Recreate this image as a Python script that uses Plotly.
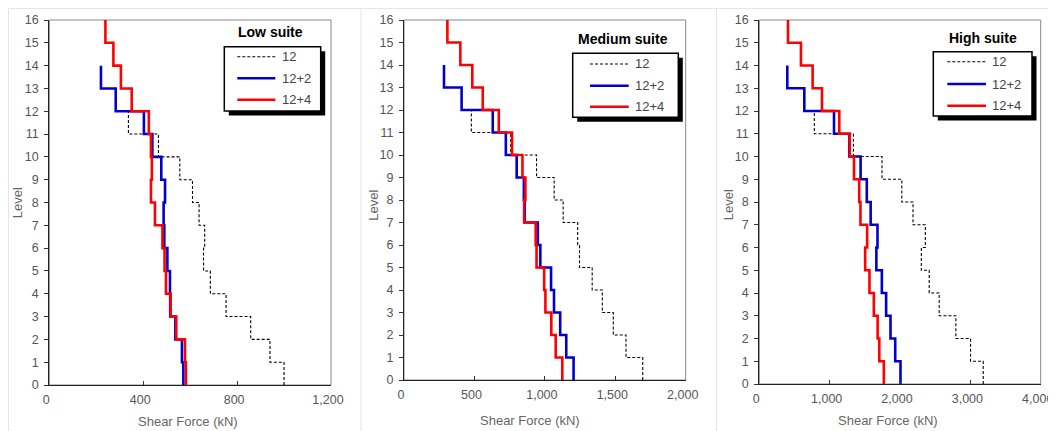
import plotly.graph_objects as go

# the page is 1056x431; the figure starts inside the browser's 8px body margin
# and runs to the right / bottom edge of the window
PAGE_W, PAGE_H = 1056, 431
OFF = 8
W, H = PAGE_W - OFF, PAGE_H - OFF

# ---------------- data (shear force per storey, kN; storey i spans level i..i+1) ----------------
suites = ["Low suite", "Medium suite", "High suite"]
series_names = ["12", "12+2", "12+4"]

low_12 = [1000, 940, 858, 753, 686, 657, 662, 638, 610, 556, 465, 337]
low_12p2 = [571, 565, 537, 515, 514, 503, 490, 487, 493, 477, 439, 403, 283, 220]
low_12p4 = [582, 578, 541, 517, 497, 491, 482, 450, 433, 437, 433, 424, 351, 305, 273, 239]

med_12 = [1695, 1576, 1486, 1408, 1336, 1246, 1233, 1130, 1066, 941, 758, 478]
med_12p2 = [1204, 1152, 1109, 1065, 1044, 968, 950, 857, 851, 800, 723, 630, 409, 284]
med_12p4 = [1124, 1077, 1046, 1004, 995, 941, 935, 853, 862, 841, 767, 673, 559, 485, 400, 308]

high_12 = [3183, 3003, 2794, 2557, 2415, 2303, 2360, 2185, 2026, 1744, 1338, 782]
high_12p2 = [2007, 1932, 1865, 1803, 1742, 1664, 1680, 1583, 1528, 1440, 1280, 1062, 640, 398]
high_12p4 = [1770, 1706, 1682, 1628, 1566, 1505, 1533, 1438, 1420, 1346, 1286, 1137, 891, 758, 592, 408]

x_max = [1200, 2000, 4000]
x_dtick = [400, 500, 1000]
level_ticks = list(range(0, 17))

panel_data = [
    [low_12, low_12p2, low_12p4],
    [med_12, med_12p2, med_12p4],
    [high_12, high_12p2, high_12p4],
]

# ---------------- layout geometry (page pixels) ----------------
plots = [  # left, right, top, bottom
    (49.3, 331.0, 20.0, 385.0),
    (404.0, 685.7, 20.0, 380.0),
    (759.3, 1040.7, 20.0, 384.0),
]
legend_box = [  # left, right, top, bottom
    (224.3, 320.7, 46.7, 111.0),
    (572.7, 678.3, 53.3, 117.3),
    (933.3, 1032.0, 51.7, 116.0),
]
legend_rows = [(56.7, 78.3, 99.7), (64.0, 85.7, 106.7), (61.7, 84.0, 105.7)]
legend_sample_x = [(237.3, 275.3), (590.0, 628.7), (947.3, 986.0)]
legend_text_x = [280.0, 633.3, 990.0]
title_pos = [(270.0, 32.3), (623.0, 39.0), (983.0, 37.7)]
xlabel_pos = [(188.0, 421.5), (530.0, 420.0), (888.0, 420.0)]
ylabel_pos = [(17.3, 203.0), (372.7, 205.0), (728.3, 205.0)]

styles = [
    dict(color="black", width=1.1, dash="3px,2px"),
    dict(color="#0000CC", width=2.6),
    dict(color="#FF0000", width=2.6),
]

FONT = "Liberation Sans, Arial, sans-serif"


def px(x):
    return (x - OFF) / W


def py(y):
    return 1 - (y - OFF) / H


fig = go.Figure()
shapes = []
annotations = []

for p in range(3):
    ax = "" if p == 0 else str(p + 1)
    l, r, t, b = plots[p]
    for s in range(3):
        vals = panel_data[p][s]
        xs = list(vals) + [vals[-1]]
        ys = list(range(len(vals) + 1))
        fig.add_trace(go.Scatter(
            x=xs, y=ys, mode="lines", line=dict(shape="vh", **styles[s]),
            name=series_names[s], showlegend=False, hoverinfo="skip",
            xaxis="x" + ax, yaxis="y" + ax,
        ))
    fig.update_layout(**{
        "xaxis" + ax: dict(
            domain=[px(l), px(r)], range=[0, x_max[p]], anchor="y" + ax,
            automargin=False, ticklabeloverflow="allow", ticklabelshift=-3,
            tickmode="linear", tick0=0, dtick=x_dtick[p], tickformat=",d",
            ticks="inside", ticklen=4, tickcolor="#333", tickwidth=1,
            showline=True, linecolor="#222", linewidth=1.2,
            showgrid=False, zeroline=False, ticklabelstandoff=3,
            tickfont=dict(family=FONT, size=12.5, color="#555"),
        ),
        "yaxis" + ax: dict(
            domain=[py(b), py(t)], range=[0, 16], anchor="x" + ax,
            automargin=False, ticklabeloverflow="allow",
            tickmode="array", tickvals=level_ticks,
            ticks="outside", ticklen=4, tickcolor="#333", tickwidth=1,
            showline=True, linecolor="#222", linewidth=1.2,
            showgrid=False, zeroline=False, ticklabelstandoff=3,
            tickfont=dict(family=FONT, size=12.5, color="#555"),
        ),
    })
    # gray frame (top/right)
    shapes.append(dict(type="rect", xref="x" + ax + " domain", yref="y" + ax + " domain",
                       x0=0, x1=1, y0=0, y1=1, line=dict(color="#888", width=1), layer="below"))
    # legend shadow + box
    bl, br, bt, bb = legend_box[p]
    shapes.append(dict(type="rect", xref="paper", yref="paper",
                       x0=px(bl + 4.5), x1=px(br + 4.5), y0=py(bb + 4.5), y1=py(bt + 4.5),
                       fillcolor="black", line=dict(width=0)))
    shapes.append(dict(type="rect", xref="paper", yref="paper",
                       x0=px(bl), x1=px(br), y0=py(bb), y1=py(bt),
                       fillcolor="white", line=dict(color="black", width=1.5)))
    for s in range(3):
        sx0, sx1 = legend_sample_x[p]
        ry = legend_rows[p][s]
        st = styles[s]
        shapes.append(dict(type="line", xref="paper", yref="paper",
                           x0=px(sx0), x1=px(sx1), y0=py(ry), y1=py(ry),
                           line=dict(color=st["color"], width=st["width"], dash=st.get("dash", "solid"))))
        annotations.append(dict(xref="paper", yref="paper", x=px(legend_text_x[p]), y=py(ry),
                                text=series_names[s], showarrow=False, xanchor="left", yanchor="middle",
                                font=dict(family=FONT, size=13, color="#444")))
    tx, ty = title_pos[p]
    annotations.append(dict(xref="paper", yref="paper", x=px(tx), y=py(ty), text="<b>" + suites[p] + "</b>",
                            showarrow=False, xanchor="center", yanchor="middle",
                            font=dict(family=FONT, size=14, color="black")))
    lx, ly = xlabel_pos[p]
    annotations.append(dict(xref="paper", yref="paper", x=px(lx), y=py(ly), text="Shear Force (kN)",
                            showarrow=False, xanchor="center", yanchor="middle",
                            font=dict(family=FONT, size=13, color="#666")))
    vx, vy = ylabel_pos[p]
    annotations.append(dict(xref="paper", yref="paper", x=px(vx), y=py(vy), text="Level",
                            showarrow=False, xanchor="center", yanchor="middle", textangle=-90,
                            font=dict(family=FONT, size=13, color="#666")))

# light panel separators
for sx in (8.5, 361, 716.5):
    shapes.append(dict(type="line", xref="paper", yref="paper", x0=px(sx), x1=px(sx), y0=0, y1=py(8.5),
                       line=dict(color="#e6e6e6", width=1), layer="below"))
shapes.append(dict(type="line", xref="paper", yref="paper", x0=px(8.5), x1=1, y0=py(8.5), y1=py(8.5),
                   line=dict(color="#e6e6e6", width=1), layer="below"))

fig.update_layout(
    template="none",
    width=W, height=H, autosize=False,
    margin=dict(l=0, r=0, t=0, b=0, pad=0, autoexpand=False),
    paper_bgcolor="white", plot_bgcolor="white",
    shapes=shapes, annotations=annotations, showlegend=False,
)

fig.write_html("out.html")
